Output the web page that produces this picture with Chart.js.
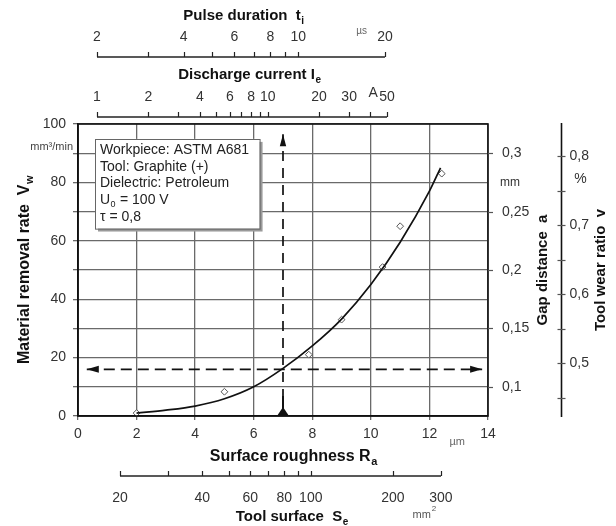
<!DOCTYPE html>
<html><head><meta charset="utf-8">
<script src="https://cdn.jsdelivr.net/npm/chart.js@4/dist/chart.umd.min.js"></script>
<style>html,body{margin:0;padding:0;background:#fff}</style>
</head><body>
<canvas id="c" width="616" height="526"></canvas>
<script>
// ---- data ----
const roughnessTicks = [0, 2, 4, 6, 8, 10, 12, 14];
const removalGrid = [0, 10, 20, 30, 40, 50, 60, 70, 80, 90, 100];
const removalLabels = [0, 20, 40, 60, 80, 100];
const curveRoughness = [2, 3, 4, 5, 6, 7, 8, 9, 10, 11, 12, 12.38];
const curveRemoval = [1, 2, 3.4, 5.9, 10, 16.3, 24, 33.2, 45, 59.5, 77, 85];
const measRoughness = [2, 5, 7.88, 9, 10.4, 11, 12.42];
const measRemoval = [1, 8.3, 21, 33, 51, 65, 83];
const guideRoughness = 7;
const guideRemoval = 16;
const guideVertical = { roughness: [7, 7], removal: [0, 96.5] };
const guideHorizontal = { roughness: [0.3, 13.8], removal: [16, 16] };

const currentTicks = [1, 2, 3, 4, 5, 6, 7, 8, 9, 10, 20, 30, 40, 50];
const currentLabels = [1, 2, 4, 6, 8, 10, 20, 30, 50];
const pulseTicks = [2, 3, 4, 5, 6, 7, 8, 9, 10, 20];
const pulseLabels = [2, 4, 6, 8, 10, 20];
const surfaceTicks = [20, 30, 40, 50, 60, 70, 80, 90, 100, 200, 300];
const surfaceLabels = [20, 40, 60, 80, 100, 200, 300];
const gapTicks = [0.1, 0.15, 0.2, 0.25, 0.3];
const gapLabels = ['0,1', '0,15', '0,2', '0,25', '0,3'];
const wearTicks = [0.45, 0.5, 0.55, 0.6, 0.65, 0.7, 0.75, 0.8];
const wearLabelValues = [0.5, 0.6, 0.7, 0.8];
const wearLabels = ['0,5', '0,6', '0,7', '0,8'];
const noteLines = ['Workpiece: ASTM A681', 'Tool: Graphite (+)', 'Dielectric: Petroleum', 'U|0| = 100 V', 'τ = 0,8'];

const FF = '"Liberation Sans", Arial, Helvetica, sans-serif';
const pts = (xs, ys) => xs.map((x, i) => ({ x: x, y: ys[i] }));

function subText(ctx, main, sub, cx, cy, size, bold, align) {
  const w = bold ? 'bold ' : '';
  const ss = Math.round(size * 0.66);
  ctx.font = w + size + 'px ' + FF;
  const w1 = ctx.measureText(main).width;
  ctx.font = w + ss + 'px ' + FF;
  const w2 = ctx.measureText(sub).width;
  let x0 = align === 'left' ? cx : cx - (w1 + w2) / 2;
  ctx.textAlign = 'left'; ctx.textBaseline = 'middle';
  ctx.font = w + size + 'px ' + FF;
  ctx.fillText(main, x0, cy);
  ctx.font = w + ss + 'px ' + FF;
  ctx.fillText(sub, x0 + w1 + 0.5, cy + size * 0.32);
}

function logAxis(ctx, sc, y, ticks, labels, labelY, tickLen, dir) {
  const a = sc.getPixelForValue(ticks[0]), b = sc.getPixelForValue(ticks[ticks.length - 1]);
  ctx.strokeStyle = '#222'; ctx.lineWidth = 1.5;
  ctx.beginPath(); ctx.moveTo(a, y); ctx.lineTo(b, y); ctx.stroke();
  ctx.lineWidth = 1.2;
  ticks.forEach(v => {
    const p = Math.round(sc.getPixelForValue(v)) + 0.5;
    ctx.beginPath(); ctx.moveTo(p, y); ctx.lineTo(p, y - tickLen * dir); ctx.stroke();
  });
  ctx.fillStyle = '#333'; ctx.font = '14px ' + FF; ctx.textAlign = 'center'; ctx.textBaseline = 'middle';
  labels.forEach(v => ctx.fillText(String(v), sc.getPixelForValue(v), labelY));
}

function arrowHead(ctx, tx, ty, dx, dy, len, hw) {
  const nx = -dy, ny = dx;
  ctx.beginPath();
  ctx.moveTo(tx, ty);
  ctx.lineTo(tx - dx * len + nx * hw, ty - dy * len + ny * hw);
  ctx.lineTo(tx - dx * len - nx * hw, ty - dy * len - ny * hw);
  ctx.closePath(); ctx.fill();
}

const overlay = {
  id: 'overlay',
  afterDatasetsDraw(chart) {
    const ctx = chart.ctx, s = chart.scales, ca = chart.chartArea;
    const X = s.x, Y = s.y;
    ctx.save();
    // arrow heads
    ctx.fillStyle = '#111';
    const gx = X.getPixelForValue(guideVertical.roughness[1]);
    arrowHead(ctx, gx, Y.getPixelForValue(guideVertical.removal[1]), 0, -1, 12, 3.2);
    const gy = Y.getPixelForValue(guideHorizontal.removal[0]);
    arrowHead(ctx, X.getPixelForValue(guideHorizontal.roughness[0]), gy, -1, 0, 12, 3.5);
    arrowHead(ctx, X.getPixelForValue(guideHorizontal.roughness[1]), gy, 1, 0, 12, 3.5);
    const bx = X.getPixelForValue(guideRoughness), by = Y.getPixelForValue(0);
    ctx.beginPath(); ctx.moveTo(bx, by - 9); ctx.lineTo(bx + 6, by); ctx.lineTo(bx - 6, by); ctx.closePath(); ctx.fill();
    ctx.fillRect(bx - 1, by - 20, 2, 12);

    // note box
    const l = X.getPixelForValue(0.58), r = X.getPixelForValue(6.2);
    const t = Y.getPixelForValue(94.9), b = Y.getPixelForValue(64.2);
    ctx.fillStyle = '#9a9a9a'; ctx.fillRect(l + 3, t + 3, r - l, b - t);
    ctx.fillStyle = '#fff'; ctx.fillRect(l, t, r - l, b - t);
    ctx.strokeStyle = '#666'; ctx.lineWidth = 1; ctx.strokeRect(Math.round(l) + 0.5, Math.round(t) + 0.5, r - l, b - t);
    ctx.fillStyle = '#222';
    noteLines.forEach((line, i) => {
      const yy = t + 11 + i * 16.8;
      if (line.indexOf('|') >= 0) {
        const parts = line.split('|');
        ctx.font = '14px ' + FF; ctx.textAlign = 'left'; ctx.textBaseline = 'middle';
        ctx.fillText(parts[0], l + 5, yy);
        const w0 = ctx.measureText(parts[0]).width;
        ctx.font = '9px ' + FF; ctx.fillText(parts[1], l + 5 + w0 + 0.5, yy + 4);
        const w1 = ctx.measureText(parts[1]).width;
        ctx.font = '14px ' + FF; ctx.fillText(parts[2], l + 5 + w0 + w1 + 1, yy);
      } else {
        ctx.font = '14px ' + FF; ctx.textAlign = 'left'; ctx.textBaseline = 'middle';
        ctx.fillText(line, l + 5, yy);
      }
    });
    ctx.restore();
  },
  afterDraw(chart) {
    const ctx = chart.ctx, s = chart.scales, ca = chart.chartArea;
    ctx.save();
    // frame
    ctx.strokeStyle = '#111'; ctx.lineWidth = 1.6;
    ctx.strokeRect(ca.left, ca.top, ca.right - ca.left, ca.bottom - ca.top);

    // right: gap distance
    ctx.strokeStyle = '#555'; ctx.lineWidth = 1.2;
    ctx.fillStyle = '#333'; ctx.font = '14px ' + FF; ctx.textAlign = 'left'; ctx.textBaseline = 'middle';
    gapTicks.forEach((v, i) => {
      const p = Math.round(s.gap.getPixelForValue(v)) + 0.5;
      ctx.beginPath(); ctx.moveTo(ca.right, p); ctx.lineTo(ca.right + 5, p); ctx.stroke();
      ctx.fillText(gapLabels[i], ca.right + 14, p);
    });
    ctx.font = '12px ' + FF; ctx.fillText('mm', ca.right + 12, s.gap.getPixelForValue(0.275));

    // wear ratio axis
    const wx = ca.right + 73.5;
    ctx.strokeStyle = '#111'; ctx.lineWidth = 1.6;
    ctx.beginPath(); ctx.moveTo(wx, ca.top - 1); ctx.lineTo(wx, ca.bottom + 1); ctx.stroke();
    ctx.strokeStyle = '#555'; ctx.lineWidth = 1.2;
    wearTicks.forEach(v => {
      const p = Math.round(s.wear.getPixelForValue(v)) + 0.5;
      ctx.beginPath(); ctx.moveTo(wx - 4, p); ctx.lineTo(wx + 4, p); ctx.stroke();
    });
    ctx.font = '14px ' + FF;
    wearLabelValues.forEach((v, i) => ctx.fillText(wearLabels[i], wx + 8, s.wear.getPixelForValue(v)));
    ctx.textAlign = 'center';
    ctx.fillText('%', wx + 19, s.wear.getPixelForValue(0.766));

    // rotated titles
    ctx.fillStyle = '#111';
    const cy = (ca.top + ca.bottom) / 2;
    [[ca.right + 55, 'Gap distance  a', 15], [ca.right + 113, 'Tool wear ratio  v', 15]].forEach(([x, txt, sz]) => {
      ctx.save(); ctx.translate(x, cy); ctx.rotate(-Math.PI / 2);
      ctx.font = 'bold ' + sz + 'px ' + FF; ctx.textAlign = 'center'; ctx.textBaseline = 'middle';
      ctx.fillText(txt, 0, 0); ctx.restore();
    });
    ctx.save(); ctx.translate(ca.left - 53, cy); ctx.rotate(-Math.PI / 2);
    subText(ctx, 'Material removal rate  V', 'w', 0, 0, 16, true);
    ctx.restore();
    ctx.fillStyle = '#444'; ctx.font = '11px ' + FF; ctx.textAlign = 'right'; ctx.textBaseline = 'middle';
    ctx.fillText('mm³/min', ca.left - 5, s.y.getPixelForValue(92));

    // top axes
    logAxis(ctx, s.current, ca.top - 7, currentTicks, currentLabels, ca.top - 27, 5, 1);
    ctx.fillStyle = '#333'; ctx.font = '14px ' + FF; ctx.textAlign = 'center';
    ctx.fillText('A', s.current.getPixelForValue(41.5), ca.top - 31);
    ctx.fillStyle = '#111';
    subText(ctx, 'Discharge current I', 'e', s.x.getPixelForValue(5.85), ca.top - 49, 15, true);
    logAxis(ctx, s.pulse, ca.top - 67, pulseTicks, pulseLabels, ca.top - 87, 5, 1);
    ctx.fillStyle = '#666'; ctx.font = '10px ' + FF; ctx.textAlign = 'center';
    ctx.fillText('µs', s.pulse.getPixelForValue(16.6), ca.top - 93);
    ctx.fillStyle = '#111';
    subText(ctx, 'Pulse duration  t', 'i', s.x.getPixelForValue(5.65), ca.top - 108, 15, true);

    // bottom axes
    ctx.fillStyle = '#666'; ctx.font = '11px ' + FF; ctx.textAlign = 'center'; ctx.textBaseline = 'middle';
    ctx.fillText('µm', s.x.getPixelForValue(12.95), ca.bottom + 26);
    ctx.fillStyle = '#111';
    subText(ctx, 'Surface roughness R', 'a', s.x.getPixelForValue(7.35), ca.bottom + 41, 16, true);
    logAxis(ctx, s.surface, ca.bottom + 60, surfaceTicks, surfaceLabels, ca.bottom + 82, 5, 1);
    ctx.fillStyle = '#111';
    subText(ctx, 'Tool surface  S', 'e', s.x.getPixelForValue(7.3), ca.bottom + 101, 15, true);
    ctx.fillStyle = '#555';
    subText(ctx, 'mm', '', s.surface.getPixelForValue(255), ca.bottom + 99, 11, false);
    ctx.font = '8px ' + FF; ctx.textAlign = 'left';
    ctx.fillText('2', s.surface.getPixelForValue(255) + 10, ca.bottom + 93);
    ctx.restore();
  }
};

const gridCol = '#6a6a6a';
new Chart(document.getElementById('c'), {
  type: 'scatter',
  data: {
    datasets: [
      { type: 'line', data: pts(curveRoughness, curveRemoval), borderColor: '#111', borderWidth: 1.7,
        pointRadius: 0, cubicInterpolationMode: 'monotone', fill: false },
      { data: pts(measRoughness, measRemoval), pointStyle: 'rectRot', pointRadius: 3.4,
        backgroundColor: '#fff', borderColor: '#555', borderWidth: 1 },
      { type: 'line', data: pts(guideVertical.roughness, guideVertical.removal), borderColor: '#111',
        borderWidth: 1.7, borderDash: [10, 7], pointRadius: 0, fill: false },
      { type: 'line', data: pts(guideHorizontal.roughness, guideHorizontal.removal), borderColor: '#111',
        borderWidth: 1.7, borderDash: [11, 6], pointRadius: 0, fill: false }
    ]
  },
  options: {
    responsive: false, animation: false, devicePixelRatio: 1,
    layout: { padding: { left: 38, top: 124, right: 128, bottom: 80 } },
    plugins: { legend: { display: false }, tooltip: { enabled: false } },
    scales: {
      x: {
        type: 'linear', min: 0, max: 14,
        afterBuildTicks: sc => { sc.ticks = roughnessTicks.map(v => ({ value: v })); },
        afterFit: sc => { sc.height = 30; },
        grid: { color: gridCol, lineWidth: 1.3, tickLength: 4 },
        border: { color: '#111', width: 1.6 },
        ticks: { color: '#333', font: { size: 14, family: FF }, padding: 6, maxRotation: 0 }
      },
      y: {
        type: 'linear', min: 0, max: 100,
        afterBuildTicks: sc => { sc.ticks = removalGrid.map(v => ({ value: v })); },
        afterFit: sc => { sc.width = 40; },
        grid: { color: gridCol, lineWidth: 1.3, tickLength: 5 },
        border: { color: '#111', width: 1.6 },
        ticks: { color: '#333', font: { size: 14, family: FF }, padding: 7,
          callback: v => removalLabels.includes(v) ? String(v) : '' }
      },
      current: { type: 'logarithmic', position: 'top', display: false, min: 0.774, max: 195.2 },
      pulse: { type: 'logarithmic', position: 'top', display: false, min: 1.718, max: 45.58 },
      surface: { type: 'logarithmic', position: 'bottom', display: false, min: 14.03, max: 446.1 },
      gap: { type: 'linear', position: 'right', display: false, min: 0.075, max: 0.325 },
      wear: { type: 'linear', position: 'right', display: false, min: 0.4237, max: 0.8463 }
    }
  },
  plugins: [overlay]
});
</script>
</body></html>
